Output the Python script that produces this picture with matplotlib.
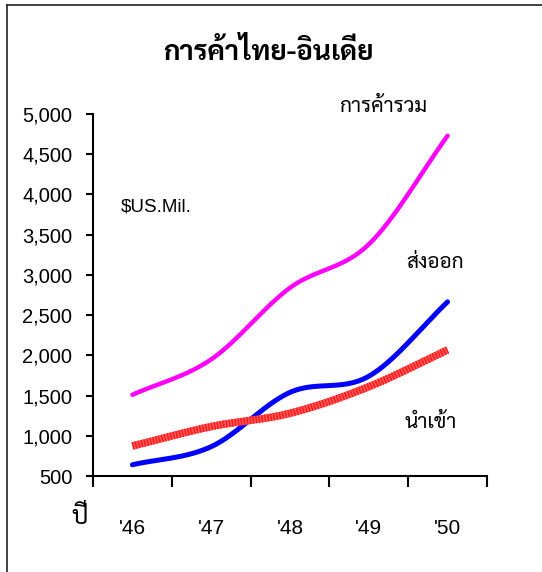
import numpy as np
import matplotlib
matplotlib.use("Agg")
import matplotlib.pyplot as plt
from matplotlib.lines import Line2D

years = ["'46", "'47", "'48", "'49", "'50"]
total = [1510, 1950, 2840, 3380, 4730]
exports = [640, 865, 1540, 1740, 2665]
imports = [873, 1115, 1280, 1610, 2068]

THAI = ["Sarabun", "DejaVu Sans"]


def smooth(y, n=40):
    # Catmull-Rom through the data points, like Excel's smoothed line
    y = np.asarray(y, float)
    x = np.arange(len(y), dtype=float)
    xp = np.concatenate([[2 * x[0] - x[1]], x, [2 * x[-1] - x[-2]]])
    yp = np.concatenate([[2 * y[0] - y[1]], y, [2 * y[-1] - y[-2]]])
    xs, ys = [], []
    t = np.linspace(0, 1, n)
    for i in range(1, len(xp) - 2):
        for arr, out in ((xp, xs), (yp, ys)):
            p0, p1, p2, p3 = arr[i - 1:i + 3]
            out.append(0.5 * ((2 * p1) + (-p0 + p2) * t
                              + (2 * p0 - 5 * p1 + 4 * p2 - p3) * t ** 2
                              + (-p0 + 3 * p1 - 3 * p2 + p3) * t ** 3))
    return np.concatenate(xs), np.concatenate(ys)


plt.rcParams["font.family"] = ["Liberation Sans", "DejaVu Sans"]
fig = plt.figure(figsize=(5.42, 5.72), dpi=100)
ax = fig.add_axes([0.1716, 0.1678, 0.7269, 0.6329])

x, y = smooth(total)
ax.plot(x, y, color="#ff00ff", lw=3.2, solid_capstyle="round")
x, y = smooth(exports)
ax.plot(x, y, color="#0000ff", lw=3.6, solid_capstyle="round")
x, y = smooth(imports)
ax.plot(x, y, color="#ff5a5a", lw=5.4, solid_capstyle="butt")
ax.plot(x, y, color="#ff1a1a", lw=5.4, linestyle=(0, (0.2, 0.2)), solid_capstyle="butt")

ax.set_xlim(-0.5, 4.5)
ax.set_ylim(500, 5000)
ax.set_yticks(np.arange(500, 5001, 500))
ax.set_yticklabels([f"{v:,}" for v in range(500, 5001, 500)])
ax.set_xticks(np.arange(-0.5, 4.6, 1))
ax.set_xticklabels([])
ax.set_xticks(range(len(years)), minor=True)
ax.set_xticklabels(years, minor=True)
ax.tick_params(axis="x", which="major", length=8, width=1.5, direction="out")
ax.tick_params(axis="x", which="minor", length=0, pad=31, labelsize=15)
ax.tick_params(axis="y", length=5, width=1.5, pad=10, labelsize=14.5)
for s in ("top", "right"):
    ax.spines[s].set_visible(False)
for s in ("left", "bottom"):
    ax.spines[s].set_linewidth(1.5)

fig.text(268 / 542, 1 - 52 / 572, "การค้าไทย-อินเดีย", ha="center", va="center",
         fontsize=20, fontweight="bold", family=THAI)
fig.text(383 / 542, 1 - 106 / 572, "การค้ารวม", ha="center", va="center",
         fontsize=15, family=THAI)
fig.text(435 / 542, 1 - 262 / 572, "ส่งออก", ha="center", va="center",
         fontsize=15, family=THAI)
fig.text(431 / 542, 1 - 422 / 572, "นำเข้า", ha="center", va="center",
         fontsize=15, family=THAI)
fig.text(80 / 542, 1 - 518 / 572, "ปี", ha="center", va="center",
         fontsize=18, family=THAI)
fig.text(156 / 542, 1 - 207 / 572, "$US.Mil.", ha="center", va="center", fontsize=13.5)

# chart border (only left and top edges show)
fig.add_artist(Line2D([7 / 542, 7 / 542], [0, 1 - 5 / 572], color="#222222", lw=1.2))
fig.add_artist(Line2D([7 / 542, 1], [1 - 5 / 572, 1 - 5 / 572], color="#222222", lw=1.2))

fig.savefig("out.png", dpi=100)
